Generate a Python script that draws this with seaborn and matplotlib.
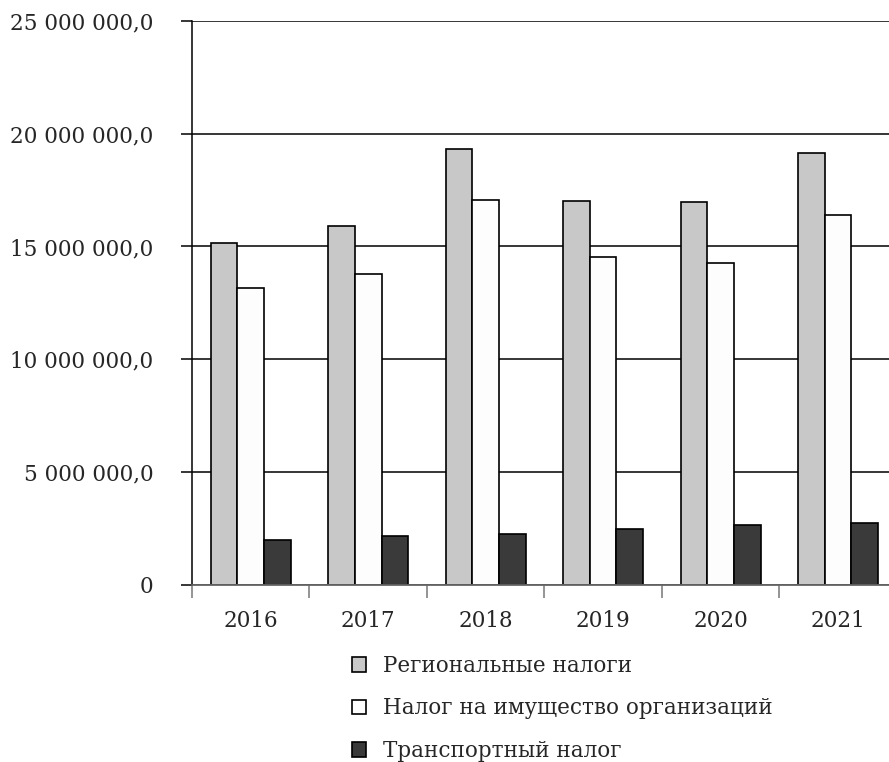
import matplotlib
matplotlib.use('Agg')
import matplotlib.pyplot as plt
import matplotlib.ticker as mticker
import seaborn as sns
import pandas as pd

years = ['2016', '2017', '2018', '2019', '2020', '2021']
series = ['Региональные налоги', 'Налог на имущество организаций', 'Транспортный налог']
regional = [15150000, 15910000, 19340000, 17000000, 16960000, 19150000]
property_tax = [13160000, 13790000, 17070000, 14530000, 14280000, 16410000]
transport = [1980000, 2150000, 2260000, 2460000, 2660000, 2720000]
colors = ['#c8c8c8', '#fdfdfd', '#3a3a3a']

rows = []
for name, vals in zip(series, [regional, property_tax, transport]):
    for y, v in zip(years, vals):
        rows.append({'year': y, 'value': v, 'tax': name})
df = pd.DataFrame(rows)

sns.set_style('white')
plt.rcParams['font.family'] = ['DejaVu Serif']
FS = 15.5

fig = plt.figure(figsize=(8.89, 7.62), dpi=100)
ax = fig.add_axes([0.216, 0.2327, 0.784, 0.7397])

sns.barplot(data=df, x='year', y='value', hue='tax', palette=colors,
            edgecolor='black', linewidth=1.2, width=0.68, ax=ax, legend=True)

ax.set_ylim(0, 25000000)
ax.set_xlim(-0.5, 5.434)
ax.set_yticks(range(0, 25000001, 5000000))


def fmt(v, pos):
    if v == 0:
        return '0'
    s = f'{v:,.1f}'.replace(',', ' ').replace('.', ',')
    return s


ax.yaxis.set_major_formatter(mticker.FuncFormatter(fmt))
ax.set_axisbelow(True)
ax.yaxis.grid(True, color='black', linewidth=1.1)
ax.xaxis.grid(False)

ax.set_xlabel('')
ax.set_ylabel('')

for side in ['top', 'right']:
    ax.spines[side].set_visible(False)
ax.spines['left'].set_color('black')
ax.spines['left'].set_linewidth(1.1)
ax.spines['bottom'].set_color('#666666')
ax.spines['bottom'].set_linewidth(1.3)

ax.tick_params(axis='y', direction='out', length=8, width=1.1, color='black',
               pad=20, labelsize=FS, left=True)
ax.tick_params(axis='x', which='major', length=0, pad=18, labelsize=FS)
ax.set_xticks([i - 0.5 for i in range(6)], minor=True)
ax.tick_params(axis='x', which='minor', direction='out', length=9, width=1.1,
               color='#777777', bottom=True)

handles, labels = ax.get_legend_handles_labels()
ax.legend_.remove()
fig.legend(handles, labels, loc='upper left',
           bbox_to_anchor=(352 / 889, 1 - 655 / 762), frameon=False,
           fontsize=FS, handlelength=0.65, handleheight=0.65,
           handletextpad=0.8, labelspacing=0.95, borderpad=0, borderaxespad=0)

fig.savefig('out.png', dpi=100)
plt.close(fig)
